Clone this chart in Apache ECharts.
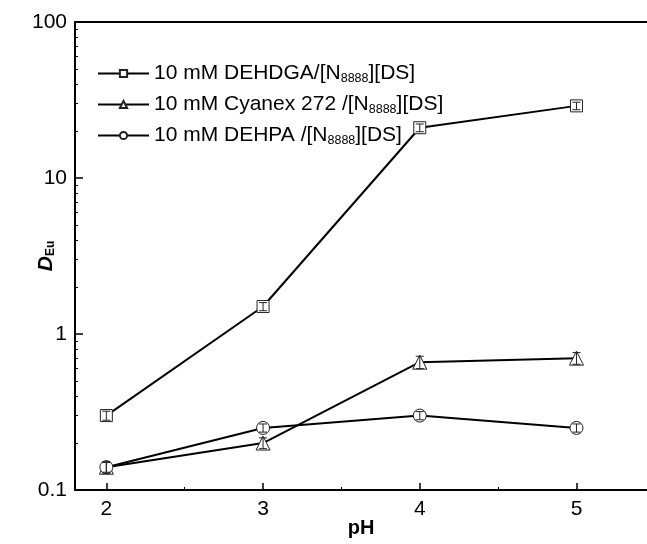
<!DOCTYPE html>
<html><head><meta charset="utf-8">
<script src="https://cdn.jsdelivr.net/npm/echarts@6/dist/echarts.min.js"></script>
<style>html,body{margin:0;padding:0;background:#fff}#c{width:647px;height:544px}</style>
</head><body><div id="c"></div>
<script>
const pH = [2, 3, 4, 5];
const dehdga = [0.30, 1.5, 21, 29];
const cyanex = [0.14, 0.20, 0.66, 0.70];
const dehpa = [0.14, 0.25, 0.30, 0.25];
const errDehdga = [0.02, 0.09, 1.2, 1.6];
const errCyanex = [0.012, 0.016, 0.06, 0.06];
const errDehpa = [0.01, 0.015, 0.018, 0.015];
const xMajorTicks = [2, 3, 4, 5];
const xMinorTicks = [2.5, 3.5, 4.5];
const yMajorTicks = [0.1, 1, 10, 100];
const yMinorTicks = [0.2,0.3,0.4,0.5,0.6,0.7,0.8,0.9,2,3,4,5,6,7,8,9,20,30,40,50,60,70,80,90];
const names = [
  '10 mM DEHDGA/[N{s|8888}][DS]',
  '10 mM Cyanex 272 /[N{s|8888}][DS]',
  '10 mM DEHPA /[N{s|8888}][DS]'
];

const font = 'Liberation Sans, Arial, sans-serif';
const chart = echarts.init(document.getElementById('c'));
function pairs(v){ return pH.map((x,i)=>[x, v[i]]); }
function errData(v, e){ return pH.map((x,i)=>[x, v[i]-e[i], v[i]+e[i]]); }
function errSeries(v, e){
  return {
    type: 'custom', xAxisIndex: 0, yAxisIndex: 0, z: 5, silent: true,
    data: errData(v, e),
    renderItem: function(params, api){
      const lo = api.coord([api.value(0), api.value(1)]);
      const hi = api.coord([api.value(0), api.value(2)]);
      const w = 4;
      const st = {stroke: '#222', lineWidth: 1};
      return {type: 'group', children: [
        {type: 'line', shape: {x1: lo[0], y1: lo[1], x2: hi[0], y2: hi[1]}, style: st},
        {type: 'line', shape: {x1: lo[0]-w, y1: lo[1], x2: lo[0]+w, y2: lo[1]}, style: st},
        {type: 'line', shape: {x1: hi[0]-w, y1: hi[1], x2: hi[0]+w, y2: hi[1]}, style: st}
      ]};
    }
  };
}
function lineSeries(name, v, sym, size){
  return {
    name: name, type: 'line', data: pairs(v), xAxisIndex: 0, yAxisIndex: 0,
    symbol: sym, symbolSize: size, showSymbol: true,
    lineStyle: {color: '#000', width: 2},
    itemStyle: {color: '#fff', borderColor: '#222', borderWidth: 1},
    z: 3, animation: false
  };
}
const axisCommon = {min: 1.8, max: 5.45, type: 'value', splitLine: {show: false}};
chart.setOption({
  animation: false,
  backgroundColor: '#fff',
  grid: {left: 75, right: 0, top: 22, bottom: 54, containLabel: false, outerBoundsMode: 'none'},
  legend: {
    orient: 'vertical', left: 97, top: 63, padding: 0, itemWidth: 51, itemHeight: 9, itemGap: 9,
    data: names,
    textStyle: {fontFamily: font, fontSize: 21, color: '#000',
      rich: {s: {fontFamily: font, fontSize: 12.5, color: '#000', padding: [10, 0, 0, 0]}}}
  },
  xAxis: [
    Object.assign({}, axisCommon, {
      position: 'bottom', name: 'pH', nameLocation: 'middle', nameGap: 28, nameMoveOverlap: false,
      nameTextStyle: {fontFamily: font, fontSize: 20, fontWeight: 'bold', color: '#000'},
      axisLine: {lineStyle: {color: '#000', width: 2}},
      axisTick: {inside: true, length: 7, lineStyle: {color: '#000', width: 1.5}, customValues: xMajorTicks},
      axisLabel: {margin: 9, fontFamily: font, fontSize: 21, color: '#000', customValues: xMajorTicks}
    }),
    Object.assign({}, axisCommon, {
      position: 'bottom',
      axisLine: {lineStyle: {color: '#000', width: 2}},
      axisTick: {inside: true, length: 3, lineStyle: {color: '#000', width: 1}, customValues: xMinorTicks},
      axisLabel: {show: false}
    }),
    Object.assign({}, axisCommon, {
      position: 'top',
      axisLine: {lineStyle: {color: '#000', width: 2}},
      axisTick: {show: false}, axisLabel: {show: false}
    })
  ],
  yAxis: [
    {
      type: 'log', logBase: 10, min: 0.1, max: 100, position: 'left',
      name: '{d|D}{e|Eu}', nameLocation: 'middle', nameGap: 18, nameRotate: 90, nameMoveOverlap: false,
      nameTextStyle: {rich: {
        d: {fontFamily: font, fontSize: 21, fontWeight: 'bold', fontStyle: 'italic', color: '#000'},
        e: {fontFamily: font, fontSize: 12, fontWeight: 'bold', color: '#000', padding: [9, 0, 0, 0]}
      }},
      splitLine: {show: false},
      axisLine: {lineStyle: {color: '#000', width: 2}},
      axisTick: {inside: true, length: 8, lineStyle: {color: '#000', width: 1.5}, customValues: yMajorTicks},
      axisLabel: {margin: 8, fontFamily: font, fontSize: 21, color: '#000', customValues: yMajorTicks,
        formatter: function(v){ return String(+v.toPrecision(3)); }}
    },
    {
      type: 'log', logBase: 10, min: 0.1, max: 100, position: 'left',
      splitLine: {show: false},
      axisLine: {show: false},
      axisTick: {inside: true, length: 3, lineStyle: {color: '#000', width: 1}, customValues: yMinorTicks},
      axisLabel: {show: false}
    }
  ],
  series: [
    lineSeries(names[0], dehdga, 'rect', 12),
    lineSeries(names[1], cyanex, 'triangle', 14),
    lineSeries(names[2], dehpa, 'circle', 13),
    errSeries(dehdga, errDehdga),
    errSeries(cyanex, errCyanex),
    errSeries(dehpa, errDehpa)
  ]
});
</script></body></html>
